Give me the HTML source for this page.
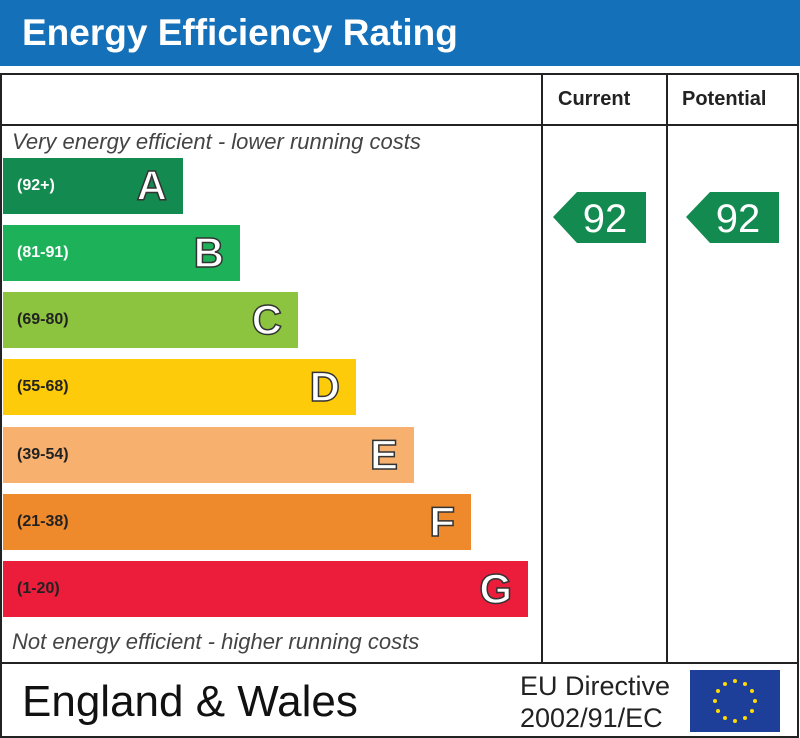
<!DOCTYPE html>
<html><head><style>
body{margin:0;width:800px;height:738px;background:#fff;font-family:"Liberation Sans",sans-serif;position:relative;overflow:hidden}
.a{position:absolute}
.bar{position:absolute;left:3px;height:56px}
.bar .r{position:absolute;left:14px;top:19px;font-size:16px;font-weight:bold;color:#fff}
.bar .l{position:absolute;right:16px;top:5px;font-size:42px;font-weight:bold;color:#fff;-webkit-text-stroke:1.5px #333;line-height:46px}
.it{position:absolute;left:12px;font-style:italic;font-size:22px;color:#444}
</style></head><body>
<div class="a" style="left:0;top:0;width:800px;height:66px;background:#1470b8"></div>
<div class="a" style="left:22px;top:12px;font-size:37px;font-weight:bold;color:#fff">Energy Efficiency Rating</div>
<div class="a" style="left:0;top:73px;width:795px;height:661px;border:2px solid #222;box-sizing:content-box"></div>
<div class="a" style="left:0;top:124px;width:797px;height:2px;background:#222"></div>
<div class="a" style="left:0;top:662px;width:797px;height:2px;background:#222"></div>
<div class="a" style="left:541px;top:73px;width:2px;height:590px;background:#222"></div>
<div class="a" style="left:666px;top:73px;width:2px;height:590px;background:#222"></div>
<div class="a" style="left:558px;top:88px;font-size:20px;font-weight:bold;color:#222">Current</div>
<div class="a" style="left:682px;top:88px;font-size:20px;font-weight:bold;color:#222">Potential</div>
<div class="it" style="top:129px">Very energy efficient - lower running costs</div>
<div class="it" style="top:629px">Not energy efficient - higher running costs</div>
<div class="bar" style="top:158px;width:180px;background:#138a4f"><span class="r">(92+)</span><span class="l">A</span></div>
<div class="bar" style="top:225px;width:237px;background:#1db15a"><span class="r">(81-91)</span><span class="l">B</span></div>
<div class="bar" style="top:292px;width:295px;background:#8cc43f"><span class="r" style="color:#222">(69-80)</span><span class="l">C</span></div>
<div class="bar" style="top:359px;width:353px;background:#fecb0a"><span class="r" style="color:#222">(55-68)</span><span class="l">D</span></div>
<div class="bar" style="top:427px;width:411px;background:#f7b06d"><span class="r" style="color:#222">(39-54)</span><span class="l">E</span></div>
<div class="bar" style="top:494px;width:468px;background:#ef8a2c"><span class="r" style="color:#222">(21-38)</span><span class="l">F</span></div>
<div class="bar" style="top:561px;width:525px;background:#ec1c3b"><span class="r" style="color:#222">(1-20)</span><span class="l">G</span></div>
<svg class="a" style="left:0;top:0" width="800" height="738">
<polygon points="553,217 577,192 646,192 646,243 577,243" fill="#138a4f"/>
<polygon points="686,217 710,192 779,192 779,243 710,243" fill="#138a4f"/>
<text x="605" y="232" font-size="40" fill="#fff" text-anchor="middle" font-family="Liberation Sans">92</text>
<text x="738" y="232" font-size="40" fill="#fff" text-anchor="middle" font-family="Liberation Sans">92</text>
<rect x="690" y="670" width="90" height="62" fill="#1d3f9a"/>
<g fill="#ffdd00">
<circle cx="735" cy="681" r="2"/><circle cx="745" cy="684" r="2"/><circle cx="752" cy="691" r="2"/><circle cx="755" cy="701" r="2"/><circle cx="752" cy="711" r="2"/><circle cx="745" cy="718" r="2"/><circle cx="735" cy="721" r="2"/><circle cx="725" cy="718" r="2"/><circle cx="718" cy="711" r="2"/><circle cx="715" cy="701" r="2"/><circle cx="718" cy="691" r="2"/><circle cx="725" cy="684" r="2"/>
</g>
</svg>
<div class="a" style="left:22px;top:677px;font-size:44px;color:#111">England &amp; Wales</div>
<div class="a" style="left:520px;top:670px;font-size:27px;color:#222;line-height:32px">EU Directive<br>2002/91/EC</div>
</body></html>
